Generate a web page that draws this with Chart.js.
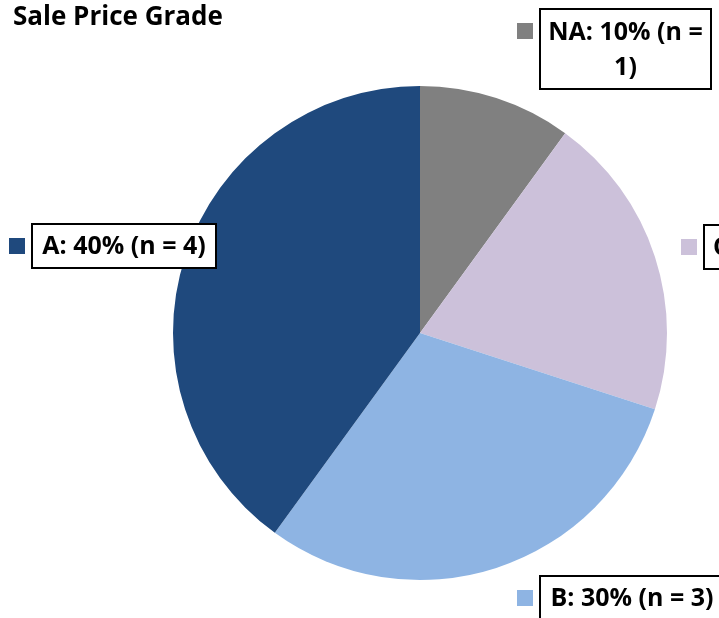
<!DOCTYPE html>
<html>
<head>
<meta charset="utf-8">
<script src="https://cdn.jsdelivr.net/npm/chart.js@4"></script>
<style>
  html, body { margin: 0; padding: 0; background: #fff; }
  #wrap { position: relative; width: 719px; height: 618px; }
</style>
</head>
<body>
<div id="wrap"><canvas id="pieChart" width="719" height="618"></canvas></div>
<script>
// ── Data ────────────────────────────────────────
const grades  = ['NA', 'C', 'B', 'A'];
const counts  = [1, 2, 3, 4];
const shares  = [10, 20, 30, 40];
const colours = ['#808080', '#CCC1DA', '#8EB4E3', '#1F497D'];

const FONT = "'Open Sans', sans-serif";

// label boxes (layout only)
const labelBoxes = {
  NA: { x: 540, y: 9,   w: 171, h: 80, lines: ['NA: 10% (n =', '1)'] },
  C:  { x: 704, y: 225, w: 180, h: 44 },
  B:  { x: 540, y: 576, w: 184, h: 44 },
  A:  { x: 32,  y: 224, w: 184, h: 44 },
};

const labelPlugin = {
  id: 'boxLabels',
  afterDraw(chart) {
    const c = chart.ctx;
    c.save();
    // title
    c.fillStyle = '#000';
    c.font = `bold 26px ${FONT}`;
    c.textBaseline = 'middle';
    c.textAlign = 'left';
    c.fillText('Sale Price Grade', 13, 18);

    grades.forEach((g, i) => {
      const b = labelBoxes[g];
      const lines = b.lines || [`${g}: ${shares[i]}% (n = ${counts[i]})`];
      c.fillStyle = '#fff';
      c.fillRect(b.x, b.y, b.w, b.h);
      c.strokeStyle = '#000';
      c.lineWidth = 2;
      c.strokeRect(b.x, b.y, b.w, b.h);
      // legend key square
      c.fillStyle = colours[i];
      c.fillRect(b.x - 23, b.y + 14, 16, 16);
      c.fillStyle = '#000';
      c.font = `bold 25px ${FONT}`;
      c.textAlign = 'center';
      c.textBaseline = 'middle';
      const lh = 35;
      const y0 = b.y + b.h / 2 - (lines.length - 1) * lh / 2 + 1;
      lines.forEach((t, k) => c.fillText(t, b.x + b.w / 2, y0 + k * lh));
    });
    c.restore();
  }
};

new Chart(document.getElementById('pieChart'), {
  type: 'pie',
  data: {
    labels: grades,
    datasets: [{
      data: shares,
      backgroundColor: colours,
      borderWidth: 0,
    }],
  },
  options: {
    responsive: false,
    animation: false,
    layout: { padding: { left: 173, right: 52, top: 86, bottom: 38 } },
    plugins: {
      legend: { display: false },
      tooltip: { enabled: false },
    },
  },
  plugins: [labelPlugin],
});
</script>
</body>
</html>
